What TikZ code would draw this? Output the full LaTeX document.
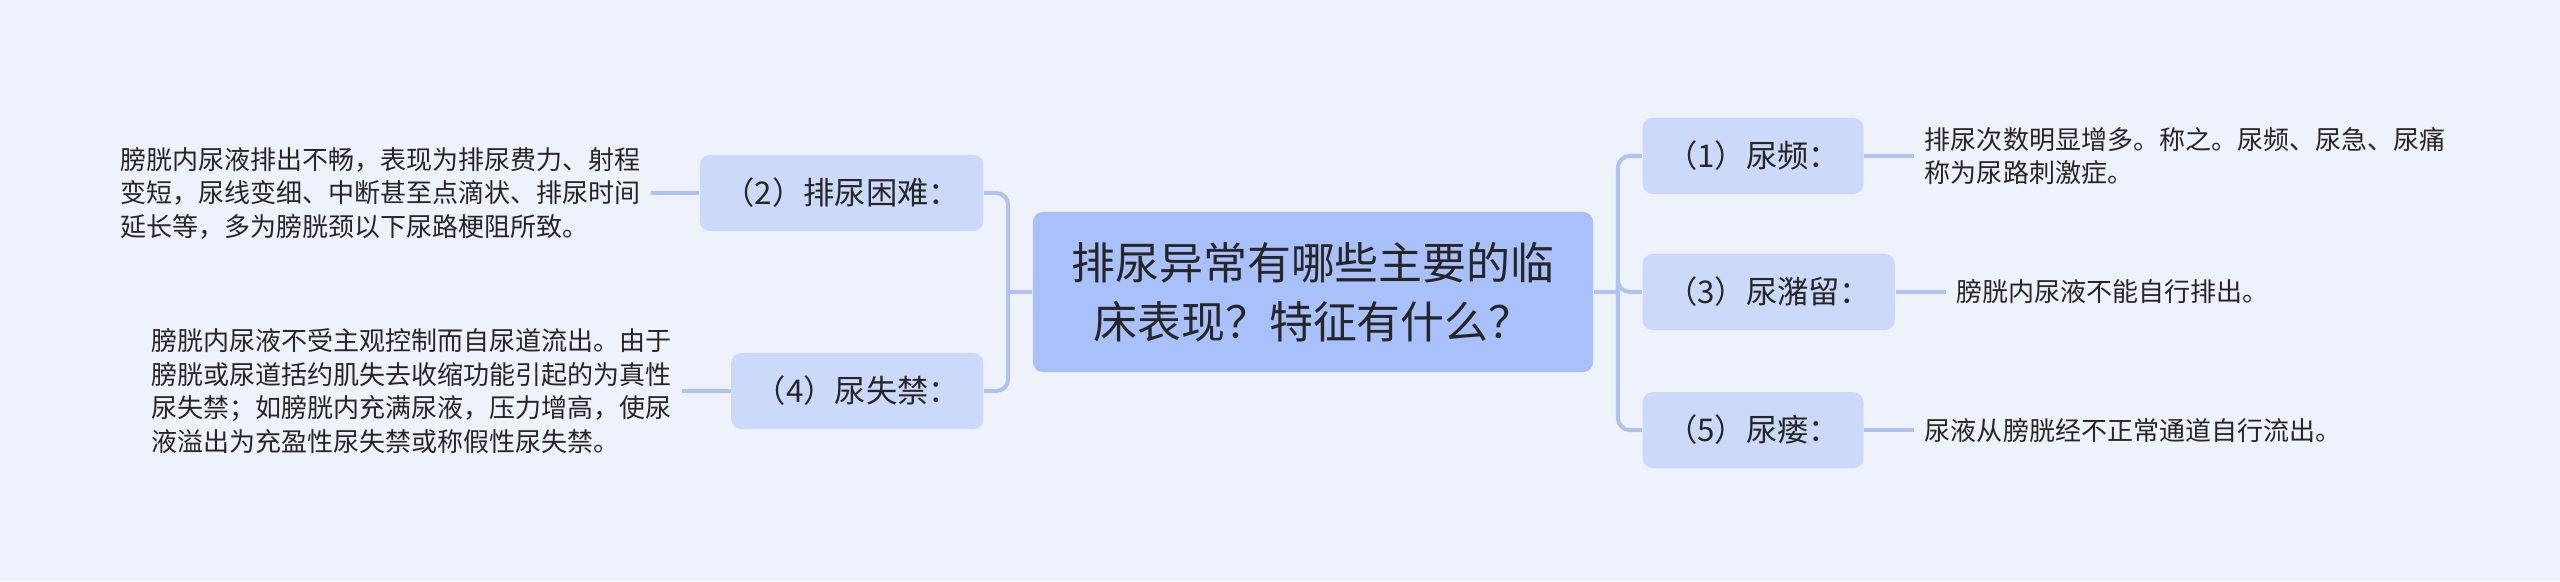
\documentclass[tikz,border=0pt]{standalone}
\usepackage{fontspec}
\newfontfamily\cjk{Noto Sans CJK SC}
\usepackage{tikz}
\usetikzlibrary{positioning,calc}
\definecolor{bgblue}{HTML}{EEF2FB}
\definecolor{rootblue}{HTML}{A9C1FA}
\definecolor{subblue}{HTML}{CBDAFB}
\definecolor{linkblue}{HTML}{AEC3F4}
\definecolor{inkgrey}{HTML}{262626}

\begin{document}
\begin{tikzpicture}[x=0.01cm, y=-0.01cm,
  root/.style={fill=rootblue, rounded corners=0.1cm, minimum width=5.6cm, minimum height=1.6cm, align=center, text=inkgrey, font=\cjk\fontsize{12.5pt}{16.8pt}\selectfont},
  sub/.style={fill=subblue, rounded corners=0.1cm, minimum height=0.76cm, inner xsep=0.235cm, text=inkgrey, font=\cjk\fontsize{8.9pt}{11pt}\selectfont},
  note/.style={align=left, inner xsep=0.1cm, inner ysep=0pt, text=inkgrey, font=\cjk\fontsize{7.4pt}{9.5pt}\selectfont},
  link/.style={draw=linkblue, line width=0.4mm, rounded corners=0.12cm}]
\fill[bgblue] (0,0) rectangle (2560,581);
\useasboundingbox (0,0) rectangle (2560,581);

\node[root] (root) at (1313,292) {排尿异常有哪些主要的临\\床表现？特征有什么？};
\node[sub, left=0.48cm of root, yshift=0.99cm] (n2) {（2）排尿困难：}; \node[sub, left=0.48cm of root, yshift=-0.99cm] (n4) {（4）尿失禁：};
\node[sub, right=0.48cm of root, yshift=1.36cm] (n1) {（1）尿频：}; \node[sub, right=0.48cm of root] (n3) {（3）尿潴留：}; \node[sub, right=0.48cm of root, yshift=-1.38cm] (n5) {（5）尿瘘：};

\node[note, left=0.48cm of n2] (t2) {膀胱内尿液排出不畅，表现为排尿费力、射程\\变短，尿线变细、中断甚至点滴状、排尿时间\\延长等，多为膀胱颈以下尿路梗阻所致。};
\node[note, left=0.48cm of n4] (t4) {膀胱内尿液不受主观控制而自尿道流出。由于\\膀胱或尿道括约肌失去收缩功能引起的为真性\\尿失禁；如膀胱内充满尿液，压力增高，使尿\\液溢出为充盈性尿失禁或称假性尿失禁。};
\node[note, right=0.5cm of n1] (t1) {排尿次数明显增多。称之。尿频、尿急、尿痛\\称为尿路刺激症。};
\node[note, right=0.5cm of n3] (t3) {膀胱内尿液不能自行排出。};
\node[note, right=0.5cm of n5] (t5) {尿液从膀胱经不正常通道自行流出。};

\coordinate (lb) at ($(root.west)+(-24,0)$); \coordinate (rb) at ($(root.east)+(24,0)$);
\draw[link] (root.west) -- (lb); \draw[link] (lb) |- (n2.east); \draw[link] (lb) |- (n4.east);
\draw[link] (root.east) -- (rb); \draw[link] (rb) |- (n1.west); \draw[link] (rb) |- (n3.west); \draw[link] (rb) |- (n5.west);
\draw[link] (n2.west) -- (t2.east); \draw[link] (n4.west) -- (t4.east);
\draw[link] (n1.east) -- (t1.west); \draw[link] (n3.east) -- (t3.west); \draw[link] (n5.east) -- (t5.west);
\end{tikzpicture}
\end{document}
